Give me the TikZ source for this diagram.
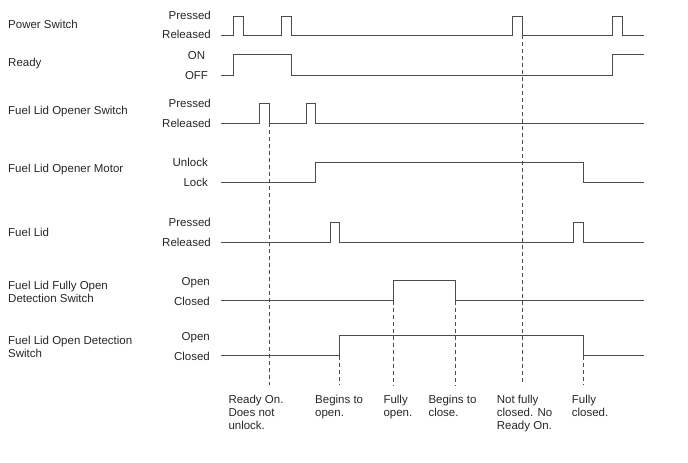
\documentclass[tikz,border=0pt]{standalone}
\usepackage{fontspec}
\setmainfont{Liberation Sans}
\usetikzlibrary{positioning}

\tikzset{
	sig/.style={draw=black!70, line width=0.9pt},
	guide/.style={draw=black!70, line width=0.8pt, dash pattern=on 4pt off 3pt},
	signame/.style={anchor=base west, inner sep=0pt, align=left, text=black!85, font=\fontsize{11.5}{13.3}\selectfont},
	level/.style={anchor=base east, inner sep=0pt, text=black!85, font=\fontsize{11.5}{13.3}\selectfont},
	note/.style={anchor=base west, inner sep=0pt, align=left, text=black!85, font=\fontsize{11.5}{13.3}\selectfont}
}

\begin{document}
\begin{tikzpicture}[x=1pt, y=-1pt]
		
		\useasboundingbox (0,0) rectangle (688,463);
		
		% signal names (base = last line)
		\node[signame] (n1) at (8,28.3) {Power Switch};
		\node[signame] (n2) at (8,66) {Ready};
		\node[signame] (n3) at (8,114.5) {Fuel Lid Opener Switch};
		\node[signame] (n4) at (8,172.5) {Fuel Lid Opener Motor};
		\node[signame] (n5) at (8,236.5) {Fuel Lid};
		\node[signame] (n6) at (8,302.5) {Fuel Lid Fully Open\\Detection Switch};
		\node[signame] (n7) at (8,357.5) {Fuel Lid Open Detection\\Switch};
		
		% levels
		\node[level] (s1h) at (211,19.5) {Pressed};
		\node[level] (s1l) at (211,38.5) {Released};
		\node[level, anchor=base] (s2h) at (196.5,59) {ON};
		\node[level, anchor=base] (s2l) at (196.5,79.5) {OFF};
		\node[level] (s3h) at (211,107.5) {Pressed};
		\node[level] (s3l) at (211,127.5) {Released};
		\node[level] (s4h) at (208,166.5) {Unlock};
		\node[level] (s4l) at (208,186.5) {Lock};
		\node[level] (s5h) at (211,226.5) {Pressed};
		\node[level] (s5l) at (211,246.5) {Released};
		\node[level] (s6h) at (210,285) {Open};
		\node[level] (s6l) at (210,305) {Closed};
		\node[level] (s7h) at (210,340) {Open};
		\node[level] (s7l) at (210,360) {Closed};
		
		% waveforms
		\draw[sig] (221,35) -- (233,35) -- (233,16) -- (243,16) -- (243,35)
		-- (281,35) -- (281,16) -- (291,16) -- (291,35)
		-- (512,35) -- (512,16) -- (522,16) -- (522,35)
		-- (612,35) -- (612,16) -- (622,16) -- (622,35) -- (644,35);
		
		\draw[sig] (221,75) -- (233,75) -- (233,54.5) -- (291,54.5) -- (291,75)
		-- (612,75) -- (612,54.5) -- (644,54.5);
		
		\draw[sig] (221,123.3) -- (259.5,123.3) -- (259.5,103.3) -- (269,103.3) -- (269,123.3)
		-- (306,123.3) -- (306,103.3) -- (315,103.3) -- (315,123.3) -- (644,123.3);
		
		\draw[sig] (221,182.3) -- (315,182.3) -- (315,162.3) -- (583,162.3) -- (583,182.3) -- (644,182.3);
		
		\draw[sig] (221,242.3) -- (330,242.3) -- (330,222.3) -- (339.5,222.3) -- (339.5,242.3)
		-- (573.5,242.3) -- (573.5,222.3) -- (583,222.3) -- (583,242.3) -- (644,242.3);
		
		\draw[sig] (221,300.7) -- (393.5,300.7) -- (393.5,280.7) -- (455,280.7) -- (455,300.7) -- (644,300.7);
		
		\draw[sig] (221,355.7) -- (339.5,355.7) -- (339.5,335.7) -- (583,335.7) -- (583,355.7) -- (644,355.7);
		
		% event markers
		\draw[guide] (269,123.3) -- (269,385);
		\draw[guide] (339.5,355.7) -- (339.5,385);
		\draw[guide] (393.5,300.7) -- (393.5,385);
		\draw[guide] (455,300.7) -- (455,385);
		\draw[guide] (522,35) -- (522,385);
		\draw[guide] (583,355.7) -- (583,385);
		
		% notes (base = last line)
		\node[note] (e1) at (228.3,429.6) {Ready On.\\Does not\\unlock.};
		\node[note] (e2) at (315,416.3) {Begins to\\open.};
		\node[note] (e3) at (383.3,416.3) {Fully\\open.};
		\node[note] (e4) at (428.3,416.3) {Begins to\\close.};
		\node[note] (e5) at (496.7,429.6) {Not fully\\closed. No\\Ready On.};
		\node[note] (e6) at (571.7,416.3) {Fully\\closed.};
		
	\end{tikzpicture}
\end{document}
